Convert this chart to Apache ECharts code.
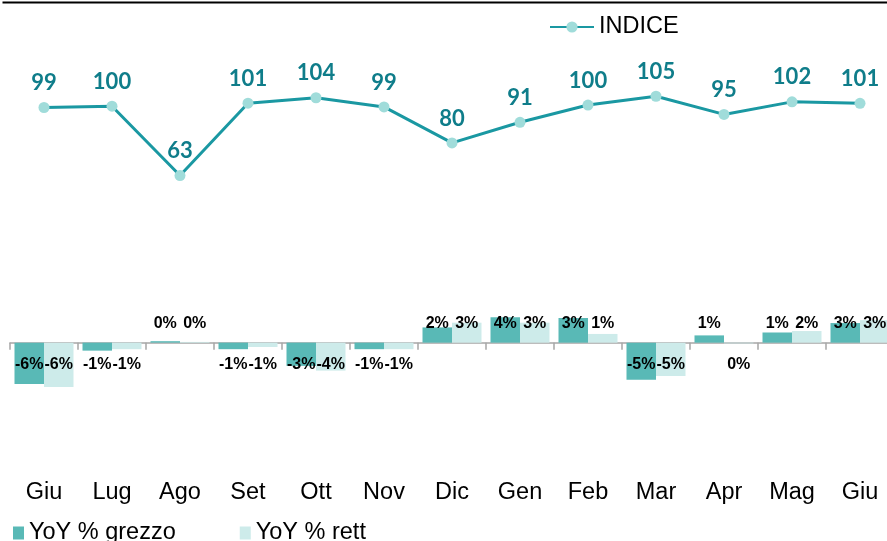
<!DOCTYPE html>
<html>
<head>
<meta charset="utf-8">
<script src="https://cdn.jsdelivr.net/npm/echarts@6/dist/echarts.min.js"></script>
<style>
html,body{margin:0;padding:0;background:#fff;}
#chart{width:887px;height:541px;}
</style>
</head>
<body>
<div id="chart"></div>
<script>
const categories = ['Giu','Lug','Ago','Set','Ott','Nov','Dic','Gen','Feb','Mar','Apr','Mag','Giu'];
const indice = [99.1, 99.8, 62.8, 101.4, 104.3, 99.4, 80.2, 91.2, 100.4, 105.1, 95.4, 102.1, 101.3];
const yoyGrezzo = [-5.7, -1.1, 0.2, -0.9, -3.2, -0.9, 2.1, 3.5, 3.4, -5.1, 1.0, 1.4, 2.7];
const yoyRett = [-6.1, -0.9, 0.1, -0.6, -3.85, -0.9, 2.75, 2.75, 1.2, -4.6, -0.1, 1.6, 3.1];

const FONT = '"Liberation Sans", Arial, sans-serif';

function barData(arr) {
  return arr.map(v => ({
    value: v,
    label: v >= 0
      ? { position: 'insideBottom', distance: 11 }
      : { position: 'insideTop', distance: 14 }
  }));
}

const chart = echarts.init(document.getElementById('chart'), null, {renderer: 'canvas'});
chart.setOption({
  animation: false,
  backgroundColor: '#ffffff',
  graphic: [{
    type: 'line', left: 0, top: 0,
    shape: {x1: 0, y1: 1, x2: 887, y2: 1},
    style: {stroke: '#000', lineWidth: 2}
  }],
  legend: [{
    data: ['INDICE'],
    left: 549, top: 15, padding: 0,
    itemWidth: 44, itemHeight: 14,
    textStyle: {fontFamily: FONT, fontSize: 23.5, color: '#000'}
  }, {
    data: ['YoY % grezzo', 'YoY % rett'],
    left: 13, top: 521, padding: 0,
    itemWidth: 11, itemHeight: 13, itemGap: 64,
    icon: 'rect',
    textStyle: {fontFamily: FONT, fontSize: 23.5, color: '#000'}
  }],
  grid: {left: 10, width: 884, top: 23.3, height: 450, outerBoundsMode: 'none', containLabel: false},
  xAxis: [{
    type: 'category', data: categories,
    axisLine: {show: true, onZero: true, onZeroAxisIndex: 0, lineStyle: {color: '#a6a6a6', width: 1.5}},
    axisTick: {show: true, length: 7, lineStyle: {color: '#a6a6a6', width: 1.5}},
    axisLabel: {show: false}
  }, {
    type: 'category', data: categories, position: 'bottom',
    axisLine: {show: false, onZero: false}, axisTick: {show: false},
    axisLabel: {show: true, margin: 7, fontFamily: FONT, fontSize: 23.5, color: '#000'}
  }],
  yAxis: [{
    type: 'value', min: -18, max: 44, show: false, splitLine: {show: false}
  }, {
    type: 'value', min: -96, max: 144, show: false, splitLine: {show: false}
  }],
  series: [{
    name: 'YoY % grezzo', type: 'bar', xAxisIndex: 0, yAxisIndex: 0,
    data: barData(yoyGrezzo), barWidth: 29.5, barGap: '0%',
    itemStyle: {color: '#59b9b6'},
    label: {show: true, fontFamily: FONT, fontSize: 16, fontWeight: 'bold', color: '#000',
      formatter: p => Math.round(p.value) + '%'}
  }, {
    name: 'YoY % rett', type: 'bar', xAxisIndex: 0, yAxisIndex: 0,
    data: barData(yoyRett), barWidth: 29.5, barGap: '0%',
    itemStyle: {color: '#cdebea'},
    label: {show: true, fontFamily: FONT, fontSize: 16, fontWeight: 'bold', color: '#000',
      formatter: p => Math.round(p.value) + '%'}
  }, {
    name: 'INDICE', type: 'line', xAxisIndex: 0, yAxisIndex: 1,
    data: indice, z: 5,
    symbol: 'circle', symbolSize: 11,
    lineStyle: {color: '#1a98a2', width: 3},
    itemStyle: {color: '#a0dcda'},
    label: {show: true, position: 'top', distance: 8, fontFamily: 'Lato, sans-serif', fontSize: 22,
      fontWeight: 'bold', color: '#0f7d8a', formatter: p => Math.round(p.value)}
  }]
});
</script>
</body>
</html>
